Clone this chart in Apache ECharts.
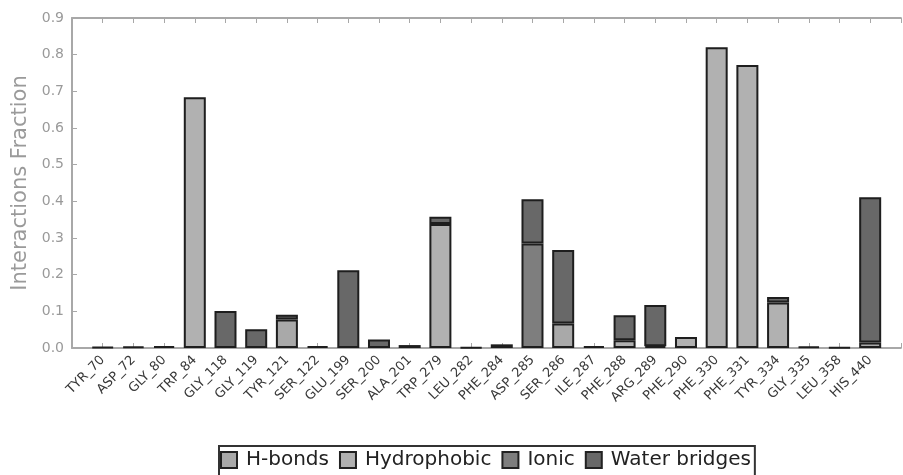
<!DOCTYPE html>
<html>
<head>
<meta charset="utf-8">
<script src="https://cdn.jsdelivr.net/npm/echarts@6/dist/echarts.min.js"></script>
<style>
  html, body { margin: 0; padding: 0; background: #fff; }
  #chart { width: 903px; height: 475px; }
</style>
</head>
<body>
<div id="chart"></div>
<script>
// Residues along the x axis
const residues = ['TYR_70', 'ASP_72', 'GLY_80', 'TRP_84', 'GLY_118', 'GLY_119', 'TYR_121',
  'SER_122', 'GLU_199', 'SER_200', 'ALA_201', 'TRP_279', 'LEU_282', 'PHE_284', 'ASP_285',
  'SER_286', 'ILE_287', 'PHE_288', 'ARG_289', 'PHE_290', 'PHE_330', 'PHE_331', 'TYR_334',
  'GLY_335', 'LEU_358', 'HIS_440'];

// Interaction fractions per residue (null = no contact of that type)
const hBonds = [null, null, null, null, null, null, 0.078, null, null, null, null, null, null,
  null, null, 0.067, null, null, null, null, null, null, null, null, null, 0.015];
const hydrophobic = [null, null, null, 0.684, null, null, null, null, null, null, null, 0.338,
  0.002, null, null, null, null, 0.021, null, 0.030, 0.820, 0.772, 0.124, null, 0.002, null];
const ionic = [null, null, null, null, null, null, null, null, null, null, null, null, null,
  null, 0.285, null, null, null, 0.005, null, null, null, null, null, null, null];
const waterBridges = [0.003, 0.004, 0.005, null, 0.101, 0.051, 0.013, 0.005, 0.212, 0.023,
  0.008, 0.020, null, 0.010, 0.121, 0.200, 0.005, 0.068, 0.112, null, null, null, 0.015,
  0.004, null, 0.396];

const yTicks = [0, 0.1, 0.2, 0.3, 0.4, 0.5, 0.6, 0.7, 0.8, 0.9];

const seriesDefs = [
  { name: 'H-bonds', values: hBonds, color: '#a9a9a9' },
  { name: 'Hydrophobic', values: hydrophobic, color: '#b1b1b1' },
  { name: 'Ionic', values: ionic, color: '#7e7e7e' },
  { name: 'Water bridges', values: waterBridges, color: '#686868' }
];

// One empty slot on each side keeps a full step of margin between the frame and the outer bars
const slots = [''].concat(residues, ['']);
const pad = arr => [null].concat(arr, [null]);

const FONT = 'DejaVu Sans';
const axisGrey = '#a8a8a8';

const xAxisBase = {
  type: 'category',
  data: slots,
  boundaryGap: false,
  splitLine: { show: false },
  axisLine: { show: true, onZero: false, lineStyle: { color: axisGrey, width: 2 } },
  axisTick: { show: true, inside: true, length: 5, interval: 0, lineStyle: { color: axisGrey, width: 1 } }
};

const chart = echarts.init(document.getElementById('chart'), null, { renderer: 'canvas' });

chart.setOption({
  animation: false,
  backgroundColor: '#ffffff',
  textStyle: { fontFamily: FONT },
  grid: { left: 72, top: 18, right: -10, bottom: 127, containLabel: false },
  legend: {
    show: true,
    left: 219,
    top: 446,
    orient: 'horizontal',
    itemWidth: 16,
    itemHeight: 16,
    itemGap: 10,
    padding: [4, 4, 10, 1],
    borderColor: '#333333',
    borderWidth: 2,
    borderRadius: 0,
    icon: 'rect',
    textStyle: { fontFamily: FONT, fontSize: 20, color: '#222222', padding: [0, 0, 0, 4] },
    itemStyle: { borderColor: '#222222', borderWidth: 2 },
    data: seriesDefs.map(s => s.name)
  },
  xAxis: [
    Object.assign({}, xAxisBase, {
      position: 'bottom',
      axisLabel: {
        show: true,
        interval: 0,
        rotate: 45,
        margin: 10,
        fontFamily: FONT,
        fontSize: 13,
        color: '#383838'
      }
    }),
    Object.assign({}, xAxisBase, {
      position: 'top',
      axisLabel: { show: false }
    })
  ],
  yAxis: {
    type: 'value',
    min: 0,
    max: 0.9,
    interval: 0.1,
    name: 'Interactions Fraction',
    nameLocation: 'middle',
    nameGap: 37,
    nameTextStyle: { fontFamily: FONT, fontSize: 21, color: '#9a9a9a' },
    splitLine: { show: false },
    axisLine: { show: true, lineStyle: { color: axisGrey, width: 2 } },
    axisTick: { show: true, inside: true, length: 5, lineStyle: { color: axisGrey, width: 1 } },
    axisLabel: {
      show: true,
      margin: 8,
      fontFamily: FONT,
      fontSize: 14,
      color: '#9a9a9a',
      formatter: v => {
        const t = yTicks.find(y => Math.abs(y - v) < 1e-9);
        return (t !== undefined ? t : v).toFixed(1);
      }
    }
  },
  series: seriesDefs.map(s => ({
    name: s.name,
    type: 'bar',
    stack: 'total',
    xAxisIndex: 0,
    barWidth: 22,
    itemStyle: { color: s.color, borderColor: '#1e1e1e', borderWidth: 2 },
    emphasis: { disabled: true },
    data: pad(s.values)
  }))
});
</script>
</body>
</html>
